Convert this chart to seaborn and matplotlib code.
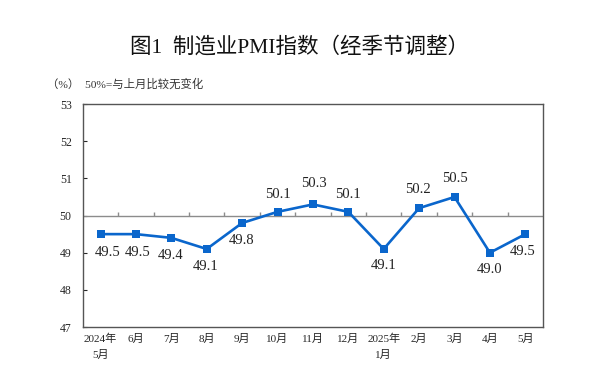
import numpy as np
import pandas as pd
import seaborn as sns
import matplotlib.pyplot as plt

# 制造业PMI (经季节调整), 2024年5月 - 2025年5月
months = ["2024年\n5月", "6月", "7月", "8月", "9月", "10月", "11月",
          "12月", "2025年\n1月", "2月", "3月", "4月", "5月"]
pmi = [49.5, 49.5, 49.4, 49.1, 49.8, 50.1, 50.3, 50.1, 49.1, 50.2, 50.5, 49.0, 49.5]

# label offsets in pixels (dx, dy), hand placed to mimic the original
label_offsets = [(7, -18), (2, -18), (-1, -18), (-1, -18), (-1, -18), (0, 17), (1, 21),
                 (0, 17), (0, -17), (-1, 19), (0, 18), (0, -17), (-3, -17)]


def main():
    df = pd.DataFrame({"pos": np.arange(len(months)), "pmi": pmi})

    sns.set_style("white")
    serif = ["Liberation Serif", "Noto Sans CJK SC"]
    plt.rcParams["font.family"] = serif

    fig = plt.figure(figsize=(6, 3.87), dpi=100)
    ax = fig.add_axes([0.138, 0.155, 0.767, 0.576])

    blue = "#0a66cc"
    # 50% reference line with small ticks between months
    ax.axhline(50, color="#8c8c8c", lw=1.0, zorder=1)
    ax.vlines(np.arange(0.5, len(months) - 1), 50, 50.1, color="#8c8c8c", lw=1.0, zorder=1)

    sns.lineplot(data=df, x="pos", y="pmi", ax=ax, color=blue, lw=1.9,
                 marker="s", markersize=5.5, markeredgewidth=0, zorder=3)

    for i, v in enumerate(pmi):
        dx, dy = label_offsets[i]
        ax.annotate(f"{v:.1f}", (i, v), xytext=(dx, dy), textcoords="offset pixels",
                    ha="center", va="center", fontsize=10.5, color="#222222",
                    family="Liberation Serif")

    ax.set_xlim(-0.5, len(months) - 0.5)
    ax.set_ylim(47, 53)
    ax.set_yticks(range(47, 54))
    ax.set_xticks(df["pos"])
    ax.set_xticklabels(months, fontsize=8, linespacing=1.7, va="top")
    ax.set_xlabel("")
    ax.set_ylabel("")
    ax.tick_params(axis="x", length=0, pad=5)
    ax.tick_params(axis="y", direction="in", length=3, width=0.8, labelsize=8.5, pad=8, left=True)
    for s in ax.spines.values():
        s.set_color("#555555")
        s.set_linewidth(1.0)

    fig.text(0.5, 0.878, "图1  制造业PMI指数（经季节调整）", ha="center", va="center",
             fontsize=15.5, fontweight="medium", family=["Liberation Serif", "Noto Sans CJK SC"],
             color="#111111")
    fig.text(0.078, 0.783, "（%）  50%=与上月比较无变化", ha="left", va="center",
             fontsize=8.2, family=serif, color="#333333")

    fig.savefig("out.png", dpi=100)


if __name__ == "__main__":
    main()
